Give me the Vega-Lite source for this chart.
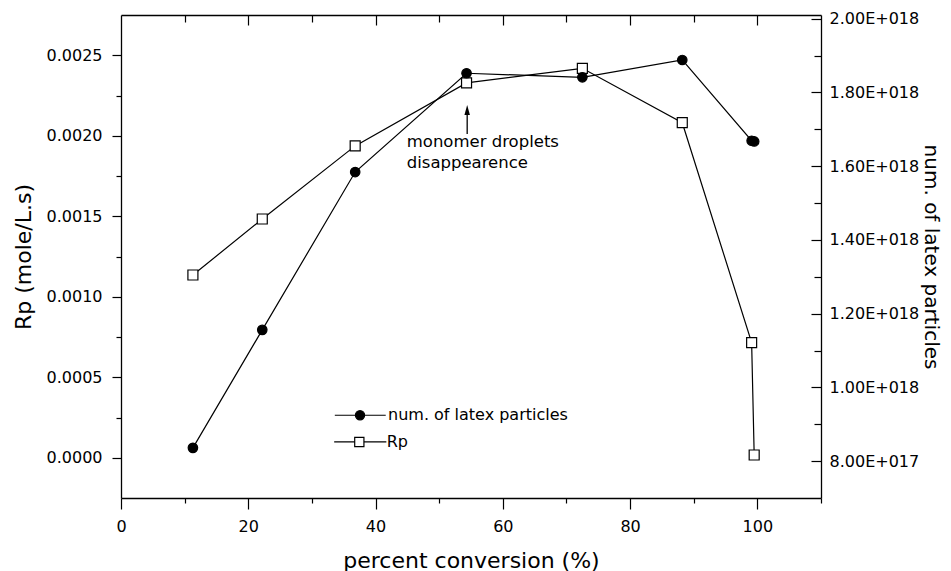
{
  "$schema": "https://vega.github.io/schema/vega-lite/v6.json",
  "width": 700,
  "height": 483,
  "autosize": "none",
  "padding": {"left": 121, "top": 15, "right": 130, "bottom": 73},
  "background": "white",
  "config": {
    "view": {"stroke": null},
    "font": "DejaVu Sans",
    "axis": {
      "labelFont": "DejaVu Sans",
      "labelFontSize": 16,
      "labelColor": "black",
      "titleFont": "DejaVu Sans",
      "titleFontWeight": "normal",
      "titleColor": "black",
      "domainColor": "black",
      "domainWidth": 1.3,
      "tickColor": "black",
      "tickWidth": 1.2,
      "grid": false,
      "labelOverlap": false,
      "labelFlush": false
    }
  },
  "datasets": {
    "rp": [
      {"conv": 11.3, "Rp": 0.001135, "series": "Rp"},
      {"conv": 22.2, "Rp": 0.001483, "series": "Rp"},
      {"conv": 36.8, "Rp": 0.001937, "series": "Rp"},
      {"conv": 54.3, "Rp": 0.002328, "series": "Rp"},
      {"conv": 72.5, "Rp": 0.002419, "series": "Rp"},
      {"conv": 88.2, "Rp": 0.002081, "series": "Rp"},
      {"conv": 99.1, "Rp": 0.000715, "series": "Rp"},
      {"conv": 99.5, "Rp": 0.000017, "series": "Rp"}
    ],
    "np": [
      {"conv": 11.3, "N": 836000000000000000, "series": "num. of latex particles"},
      {"conv": 22.2, "N": 1156000000000000000, "series": "num. of latex particles"},
      {"conv": 36.8, "N": 1584000000000000000, "series": "num. of latex particles"},
      {"conv": 54.3, "N": 1852000000000000000, "series": "num. of latex particles"},
      {"conv": 72.5, "N": 1841000000000000000, "series": "num. of latex particles"},
      {"conv": 88.2, "N": 1888000000000000000, "series": "num. of latex particles"},
      {"conv": 99.1, "N": 1669000000000000000, "series": "num. of latex particles"},
      {"conv": 99.5, "N": 1667000000000000000, "series": "num. of latex particles"}
    ],
    "legline": [
      {"conv": 33.6, "conv2": 41.6, "Rp": 0.000264},
      {"conv": 33.5, "conv2": 41.7, "Rp": 0.000098}
    ],
    "legmark": [
      {"conv": 37.56, "Rp": 0.000264, "series": "num. of latex particles"},
      {"conv": 37.45, "Rp": 0.000098, "series": "Rp"}
    ],
    "leglabel": [
      {"conv": 41.96, "Rp": 0.000264, "text": "num. of latex particles"},
      {"conv": 41.75, "Rp": 0.000098, "text": "Rp"}
    ],
    "note": [
      {"conv": 44.9, "Rp": 0.001963, "text": "monomer droplets"},
      {"conv": 44.9, "Rp": 0.001829, "text": "disappearence"}
    ],
    "arrow": [
      {"conv": 54.4, "Rp": 0.00216, "Rp2": 0.002011}
    ]
  },
  "layer": [
    {
      "data": {"name": "rp"},
      "encoding": {
        "x": {
          "field": "conv", "type": "quantitative",
          "scale": {"domain": [0, 110], "nice": false, "zero": false},
          "axis": {
            "orient": "bottom",
            "title": "percent conversion (%)",
            "titleFontSize": 22,
            "titlePadding": 16,
            "values": [0, 10, 20, 30, 40, 50, 60, 70, 80, 90, 100, 110],
            "labelExpr": "datum.value % 20 === 0 && datum.value <= 100 ? datum.label : ''",
            "tickSize": {"condition": {"test": "datum.value % 20 === 0", "value": 11}, "value": 5},
            "labelPadding": 9
          }
        },
        "y": {
          "field": "Rp", "type": "quantitative",
          "scale": {"domain": [-0.00025, 0.00275], "nice": false, "zero": false},
          "axis": {
            "orient": "left",
            "title": "Rp (mole/L.s)",
            "titleFontSize": 22,
            "titlePadding": 11,
            "values": [0, 0.00025, 0.0005, 0.00075, 0.001, 0.00125, 0.0015, 0.00175, 0.002, 0.00225, 0.0025],
            "labelExpr": "round(datum.value * 4000) % 2 === 0 ? format(datum.value, '.4f') : ''",
            "tickSize": {"condition": {"test": "round(datum.value * 4000) % 2 === 0", "value": 9}, "value": 5},
            "labelPadding": 10
          }
        }
      },
      "layer": [
        {"mark": {"type": "line", "color": "black", "strokeWidth": 1.2}},
        {
          "mark": {"type": "point", "shape": "square", "filled": true, "fill": "white", "stroke": "black", "opacity": 1, "strokeWidth": 1.2, "size": 100}
        },
        {
          "data": {"name": "legline"},
          "mark": {"type": "rule", "color": "black", "strokeWidth": 1.2},
          "encoding": {"x2": {"field": "conv2"}}
        },
        {
          "data": {"name": "legmark"},
          "mark": {"type": "point", "filled": true, "stroke": "black", "opacity": 1, "strokeWidth": 1.2, "size": 85},
          "encoding": {
            "shape": {
              "field": "series", "type": "nominal",
              "scale": {"domain": ["num. of latex particles", "Rp"], "range": ["circle", "square"]},
              "legend": null
            },
            "fill": {
              "field": "series", "type": "nominal",
              "scale": {"domain": ["num. of latex particles", "Rp"], "range": ["black", "white"]},
              "legend": null
            }
          }
        },
        {
          "data": {"name": "leglabel"},
          "mark": {"type": "text", "align": "left", "baseline": "middle", "font": "DejaVu Sans", "fontSize": 16, "color": "black"},
          "encoding": {"text": {"field": "text", "type": "nominal"}}
        },
        {
          "data": {"name": "note"},
          "mark": {"type": "text", "align": "left", "baseline": "middle", "font": "DejaVu Sans", "fontSize": 16.5, "color": "black"},
          "encoding": {"text": {"field": "text", "type": "nominal"}}
        },
        {
          "data": {"name": "arrow"},
          "mark": {"type": "rule", "color": "black", "strokeWidth": 1.3},
          "encoding": {"y2": {"field": "Rp2"}}
        },
        {
          "data": {"name": "arrow"},
          "mark": {"type": "point", "shape": "M0,-1L0.55,1L-0.55,1Z", "filled": true, "color": "black", "opacity": 1, "size": 100}
        }
      ]
    },
    {
      "data": {"name": "np"},
      "encoding": {
        "x": {
          "field": "conv", "type": "quantitative",
          "scale": {"domain": [0, 110], "nice": false, "zero": false},
          "axis": {
            "orient": "top",
            "title": null,
            "labels": false,
            "values": [10, 20, 30, 40, 50, 60, 70, 80, 90, 100],
            "tickSize": {"condition": {"test": "datum.value % 20 === 0", "value": -10}, "value": -7}
          }
        },
        "y": {
          "field": "N", "type": "quantitative",
          "scale": {"domain": [700000000000000000, 2010000000000000000], "nice": false, "zero": false},
          "axis": {
            "orient": "right",
            "title": "num. of latex particles",
            "titleFontSize": 20,
            "titlePadding": 2,
            "values": [800000000000000000, 900000000000000000, 1000000000000000000, 1100000000000000000, 1200000000000000000, 1300000000000000000, 1400000000000000000, 1500000000000000000, 1600000000000000000, 1700000000000000000, 1800000000000000000, 1900000000000000000, 2000000000000000000],
            "labelExpr": "round(datum.value / 1e17) % 2 === 0 ? format(datum.value / pow(10, floor(log(datum.value) / LN10 + 1e-9)), '.2f') + 'E+0' + floor(log(datum.value) / LN10 + 1e-9) : ''",
            "tickSize": {"condition": {"test": "round(datum.value / 1e17) % 2 === 0", "value": -10}, "value": -7},
            "labelPadding": 18
          }
        }
      },
      "layer": [
        {"mark": {"type": "line", "color": "black", "strokeWidth": 1.2}},
        {
          "mark": {"type": "point", "shape": "circle", "filled": true, "fill": "black", "stroke": "black", "opacity": 1, "strokeWidth": 1.2, "size": 90}
        }
      ]
    }
  ],
  "resolve": {"scale": {"y": "independent"}}
}
